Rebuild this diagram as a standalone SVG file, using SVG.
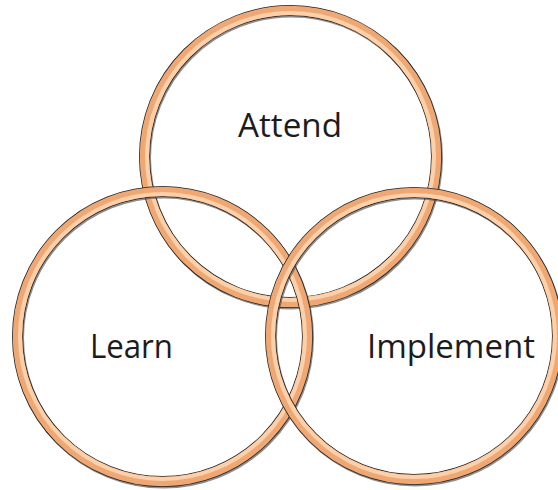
<svg xmlns="http://www.w3.org/2000/svg" width="558" height="490" viewBox="0 0 558 490">
<style>
.sh{fill:none;stroke:#444;stroke-width:11;opacity:.6}
.edge{fill:none;stroke:#222;stroke-width:11}
.ring{fill:none;stroke:#EFA873;stroke-width:9.5}
.hi{fill:none;stroke:#FBD0AA;stroke-width:4}
.lbl{font-family:"Open Sans","Liberation Sans",sans-serif;font-size:33px;fill:#1c1c1c;text-anchor:middle}
</style>
<rect width="558" height="490" fill="#fff"/>
<g id="attend">
<circle class="sh" cx="291.5" cy="158" r="146"/>
<circle class="edge" cx="290.5" cy="156.5" r="146"/>
<circle class="ring" cx="290.5" cy="156.5" r="146"/>
<circle class="hi" cx="290.5" cy="156.5" r="143.5"/>
<text class="lbl" x="290" y="137" textLength="104" lengthAdjust="spacingAndGlyphs">Attend</text>
</g>
<g id="learn">
<circle class="sh" cx="163.5" cy="338" r="145"/>
<circle class="edge" cx="162.5" cy="336.5" r="145"/>
<circle class="ring" cx="162.5" cy="336.5" r="145"/>
<circle class="hi" cx="162.5" cy="336.5" r="142.5"/>
<text class="lbl" x="131.5" y="358" textLength="83" lengthAdjust="spacingAndGlyphs">Learn</text>
</g>
<g id="implement">
<circle class="sh" cx="415" cy="337.5" r="143.5"/>
<circle class="edge" cx="414" cy="336" r="143.5"/>
<circle class="ring" cx="414" cy="336" r="143.5"/>
<circle class="hi" cx="414" cy="336" r="141"/>
<text class="lbl" x="451" y="358" textLength="168" lengthAdjust="spacingAndGlyphs">Implement</text>
</g>
<g id="connectors"></g>
</svg>
